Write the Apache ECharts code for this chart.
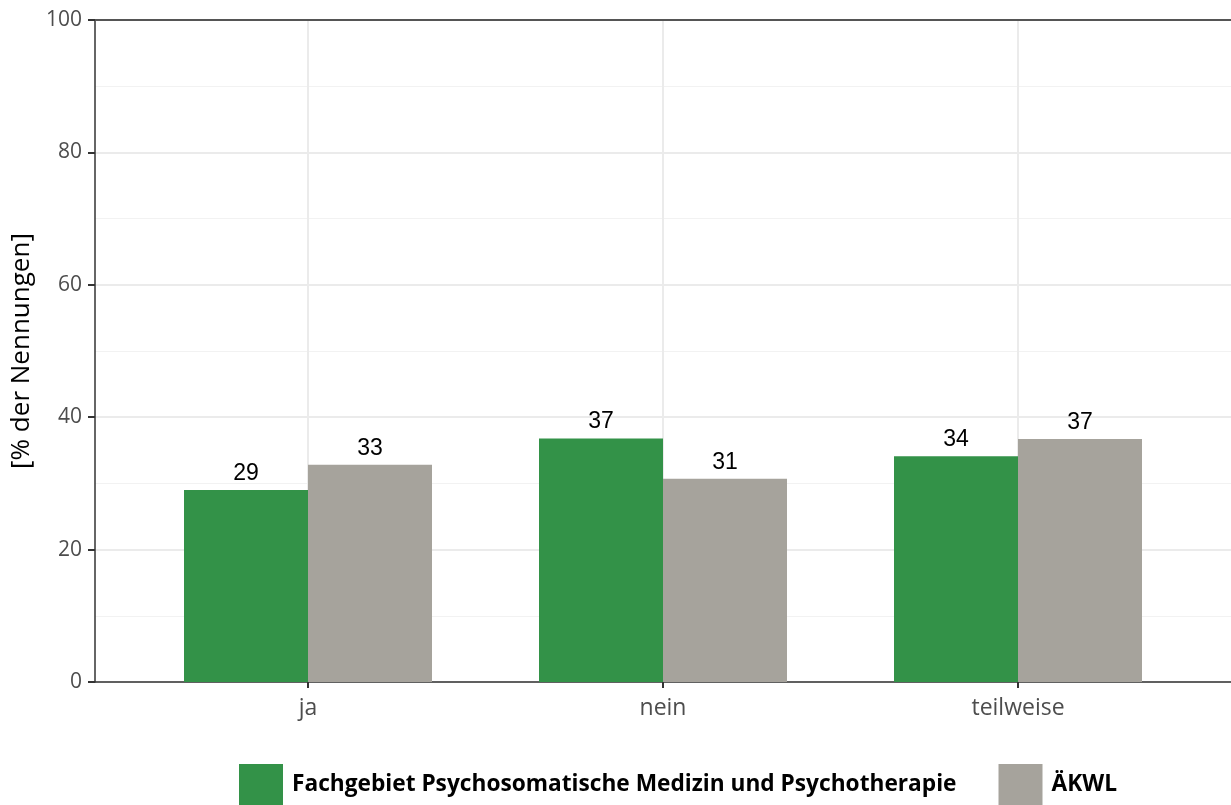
<!DOCTYPE html>
<html><head><meta charset="utf-8">
<script src="https://cdn.jsdelivr.net/npm/echarts@6/dist/echarts.min.js"></script>
<style>html,body{margin:0;padding:0;background:#fff}#c{width:1231px;height:805px}</style>
</head><body><div id="c"></div>
<script>
const categories = ['ja', 'nein', 'teilweise'];
const seriesNames = ['Fachgebiet Psychosomatische Medizin und Psychotherapie', 'ÄKWL'];
const fachValues = [29, 36.8, 34.1];
const aekwlValues = [32.8, 30.7, 36.7];
const yTicks = [0, 20, 40, 60, 80, 100];

const positions = categories.map((c, i) => i + 1);
const chart = echarts.init(document.getElementById('c'));
const labelStyle = {show: true, position: 'top', distance: 5, color: '#000', fontFamily: 'Liberation Sans', fontSize: 23,
  formatter: p => Math.round(p.value[1])};
chart.setOption({
  animation: false,
  grid: {left: 95, right: 0, top: 20, bottom: 123},
  legend: {
    bottom: -5, left: 234, itemWidth: 44, itemHeight: 41, itemGap: 42,
    icon: 'rect',
    textStyle: {fontFamily: 'Open Sans', fontWeight: 'bold', fontSize: 22.7, color: '#000', padding: [0, 0, 0, 4]},
    data: seriesNames
  },
  xAxis: [{
    type: 'value', min: 0.4, max: 3.6,
    axisLine: {lineStyle: {color: '#333', width: 1.5}},
    axisTick: {show: true, customValues: positions, length: 6, lineStyle: {color: '#333', width: 2}},
    axisLabel: {customValues: positions, formatter: v => categories[Math.round(v) - 1] || '',
      color: '#4d4d4d', fontFamily: 'Open Sans', fontSize: 23, margin: 15},
    splitLine: {show: true, lineStyle: {color: '#ebebeb', width: 2}}
  }, {
    type: 'value', min: 0.4, max: 3.6, position: 'top',
    axisLine: {show: true, lineStyle: {color: '#555', width: 2}},
    axisTick: {show: false}, axisLabel: {show: false}, splitLine: {show: false}
  }],
  yAxis: {
    type: 'value', min: 0, max: 100, interval: 20,
    name: '[% der Nennungen]', nameLocation: 'middle', nameGap: 58,
    nameTextStyle: {color: '#000', fontFamily: 'Open Sans', fontSize: 26},
    axisLine: {show: true, lineStyle: {color: '#333', width: 1.5}},
    axisTick: {show: true, length: 7, lineStyle: {color: '#333', width: 2}},
    axisLabel: {color: '#4d4d4d', fontFamily: 'Open Sans', fontSize: 21, margin: 13},
    splitLine: {lineStyle: {color: '#ebebeb', width: 2}},
    minorTick: {show: false, splitNumber: 2},
    minorSplitLine: {show: true, lineStyle: {color: '#f2f2f2', width: 1}}
  },
  series: [{
    name: seriesNames[0], type: 'bar', barWidth: 124, barGap: '0%',
    itemStyle: {color: '#339248'},
    label: labelStyle,
    data: positions.map((x, i) => [x, fachValues[i]])
  }, {
    name: seriesNames[1], type: 'bar', barWidth: 124, barGap: '0%',
    itemStyle: {color: '#a6a39c'},
    label: labelStyle,
    data: positions.map((x, i) => [x, aekwlValues[i]])
  }]
});
</script></body></html>
